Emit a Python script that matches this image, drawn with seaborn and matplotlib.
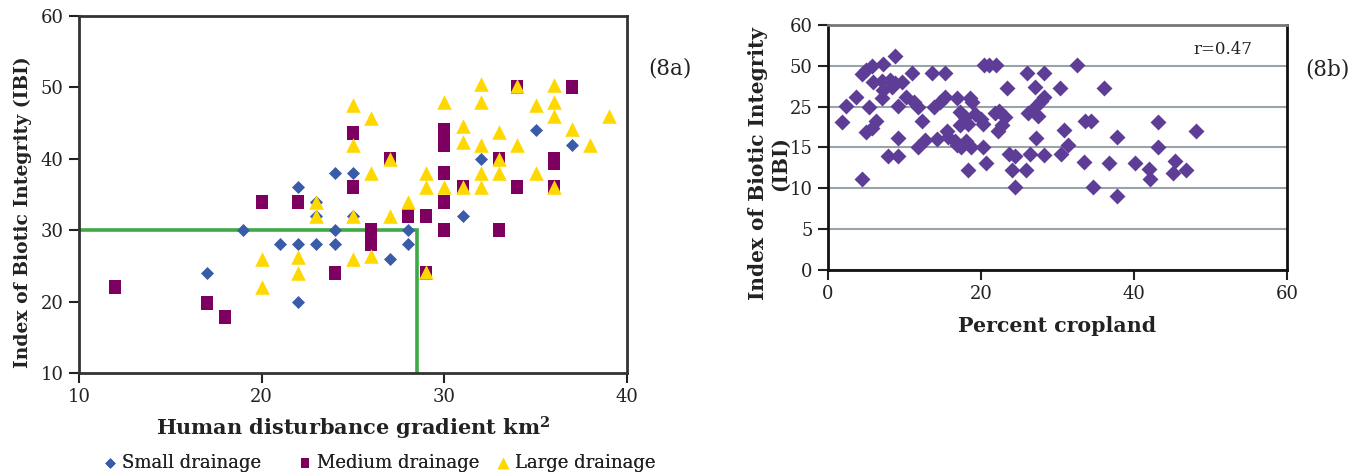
import numpy as np
import pandas as pd
import matplotlib
matplotlib.use("Agg")
import matplotlib.pyplot as plt
from matplotlib.path import Path
import seaborn as sns

# ---------------- data: panel 8a ----------------
small_x = [17, 19, 21, 22, 22, 22, 23, 23, 23, 24, 24, 24, 25, 25, 27, 28, 28, 31, 32, 35, 37]
small_y = [24, 30, 28, 36, 28, 20, 34, 32, 28, 38, 30, 28, 38, 32, 26, 30, 28, 32, 40, 44, 42]

medium_x = [12, 17, 18, 20, 22, 24, 25, 25, 26, 26, 26, 27, 28, 29, 29,
            30, 30, 30, 30, 30, 30, 31, 33, 33, 34, 34, 36, 36, 36, 37]
medium_y = [22, 19.8, 17.8, 34, 34, 24, 43.6, 36, 30, 29, 28, 40, 32, 32, 24,
            44, 43, 42, 38, 34, 30, 36, 40, 30, 50, 36, 40, 39.4, 36, 50]

large_x = [20, 20, 22, 22, 23, 23, 25, 25, 25, 25, 26, 26, 26, 27, 27, 28, 29, 29, 29,
           30, 30, 31, 31, 31, 32, 32, 32, 32, 32, 33, 33, 33, 34, 34, 35, 35,
           36, 36, 36, 36, 37, 38, 39]
large_y = [26, 22, 26.3, 24, 34, 32, 47.5, 42, 32, 26, 45.7, 38, 26.4, 40, 32, 34, 38, 36, 24.2,
           48, 36, 44.6, 42.4, 36, 50.5, 48, 42, 38, 36, 43.7, 40, 38, 50.2, 42, 47.5, 38,
           50.4, 48, 46, 36, 44.2, 42, 46]

group_names = ["Small drainage", "Medium drainage", "Large drainage"]
threshold_ibi = 30
threshold_hdg = 28.5

# ---------------- data: panel 8b ----------------
cropland = [8.7, 5.7, 7.2, 4.9, 4.4, 11.0, 13.6, 15.3, 20.4, 21.1, 21.9, 26.0, 28.3, 32.5,
            5.9, 7.0, 8.1, 8.7, 9.7, 7.2, 8.3, 23.4, 27.0, 30.3, 36.1,
            3.6, 7.0, 2.3, 5.4, 9.2, 10.2, 11.3, 11.8, 13.9, 14.7, 15.3, 16.8, 18.5, 18.8, 26.1, 27.2, 27.9, 28.3,
            1.8, 6.3, 5.7, 5.0, 12.3, 17.2, 17.9, 18.3, 17.2, 19.2, 20.0, 20.3, 21.8, 22.4, 23.1, 22.7, 22.2,
            27.4, 33.6, 34.4, 43.1, 30.9, 48.1, 15.5,
            9.2, 12.7, 14.2, 11.8, 15.7, 16.6, 16.8, 17.4, 18.1, 18.7, 20.3, 27.2, 31.4, 30.5, 37.8, 43.1,
            23.7, 24.4, 26.4, 28.3, 7.8, 9.2,
            4.4, 18.3, 20.7, 24.1, 25.9, 24.4, 33.5, 36.7, 40.1, 42.0, 42.1, 45.3, 45.1, 46.8, 34.6, 37.8]
ibi_b = [52.3, 50.0, 50.4, 47.4, 44.9, 45.5, 45.5, 45.5, 50.2, 50.2, 50.2, 45.5, 45.5, 50.2,
         39.8, 40.8, 41.3, 39.2, 39.8, 35.2, 36.8, 36.2, 36.8, 36.2, 36.2,
         31.1, 30.3, 25.6, 24.8, 25.6, 30.7, 27.6, 25.0, 24.8, 27.6, 30.7, 30.3, 30.3, 27.6, 23.4, 25.6, 28.7, 30.7,
         21.2, 21.6, 19.8, 18.7, 21.6, 23.6, 22.4, 20.8, 20.4, 23.2, 22.0, 20.8, 23.4, 24.0, 22.4, 20.4, 19.0,
         22.8, 21.6, 21.6, 21.2, 19.3, 19.1, 19.1,
         17.4, 16.9, 17.1, 15.1, 17.5, 16.7, 15.5, 15.1, 16.7, 15.1, 15.1, 17.4, 15.5, 14.2, 17.5, 15.1,
         14.2, 14.0, 14.2, 14.1, 13.9, 14.0,
         11.1, 12.2, 13.1, 12.2, 12.2, 10.2, 13.2, 13.1, 13.1, 12.4, 11.2, 13.4, 11.9, 12.2, 10.2, 9.0]
ibi_b_ticks = [0, 5, 10, 15, 25, 50, 60]
crop_ticks = [0, 20, 40, 60]
r_text = "r=0.47"

# ---------------- style ----------------
sns.set_theme(style="white")
plt.rcParams["font.family"] = ["DejaVu Serif", "Liberation Serif"]
plt.rcParams["mathtext.fontset"] = "dejavuserif"

fig = plt.figure(figsize=(13.61, 4.76), dpi=100)
axA = fig.add_axes([0.058, 0.2164, 0.4027, 0.7500])
axB = fig.add_axes([0.6084, 0.4328, 0.3372, 0.5147])

c_small = "#3A5BA8"
c_med = "#7D0061"
c_large = "#FFD800"
c_purple = "#5E3D96"
txt = "#222222"

rect_marker = Path([(-0.42, -0.5), (0.42, -0.5), (0.42, 0.5), (-0.42, 0.5), (-0.42, -0.5)],
                   [Path.MOVETO, Path.LINETO, Path.LINETO, Path.LINETO, Path.CLOSEPOLY])

df_s = pd.DataFrame({"x": small_x, "y": small_y})
df_m = pd.DataFrame({"x": medium_x, "y": medium_y})
df_l = pd.DataFrame({"x": large_x, "y": large_y})

# threshold line
axA.plot([10, threshold_hdg, threshold_hdg], [threshold_ibi, threshold_ibi, 10],
         color="#3DAA45", lw=2.6, zorder=1, solid_joinstyle="miter")

sns.scatterplot(data=df_s, x="x", y="y", ax=axA, marker="D", s=44, color=c_small,
                linewidth=0, label=group_names[0], zorder=3)
sns.scatterplot(data=df_m, x="x", y="y", ax=axA, marker=rect_marker, s=90, color=c_med,
                linewidth=0, label=group_names[1], zorder=4)
sns.scatterplot(data=df_l, x="x", y="y", ax=axA, marker="^", s=110, color=c_large,
                linewidth=0, label=group_names[2], zorder=5)

axA.set_xlim(10, 40)
axA.set_ylim(10, 60)
axA.set_xticks([10, 20, 30, 40])
axA.set_yticks([10, 20, 30, 40, 50, 60])
axA.set_xlabel("Human disturbance gradient km$^{\\mathbf{2}}$", fontsize=15, fontweight="bold",
               labelpad=6, color=txt)
axA.set_ylabel("Index of Biotic Integrity (IBI)", fontsize=13.5, fontweight="bold", color=txt)
axA.yaxis.set_label_coords(-0.086, 0.45)
axA.tick_params(axis="both", direction="out", length=7, width=1.5, labelsize=13, colors=txt,
                bottom=True, left=True, pad=4)
for sp in axA.spines.values():
    sp.set_color("#333333")
    sp.set_linewidth(2)

handles, labels = axA.get_legend_handles_labels()
axA.get_legend().remove()
legend_left = [101, 296, 494]
for h, lab, lx in zip(handles, labels, legend_left):
    leg = fig.legend([h], [lab], loc="center left", bbox_to_anchor=(lx / 1361, 0.027),
                     frameon=False, fontsize=13, handletextpad=0.15, markerscale=0.8,
                     handlelength=1.0, borderpad=0, borderaxespad=0, labelcolor=txt)
    fig.add_artist(leg)

fig.text(0.4923, 0.857, "(8a)", fontsize=15.5, ha="center", va="center", color=txt)

# ---------------- panel 8b ----------------
df_b = pd.DataFrame({"crop": cropland, "ibi": ibi_b})
pos = np.arange(len(ibi_b_ticks), dtype=float)


def fwd(v):
    return np.interp(v, ibi_b_ticks, pos)


def inv(p):
    return np.interp(p, pos, ibi_b_ticks)


sns.scatterplot(data=df_b, x="crop", y="ibi", ax=axB, marker="D", s=66, color=c_purple,
                linewidth=0, zorder=3)
axB.set_yscale("function", functions=(fwd, inv))
axB.set_ylim(0, 60)
axB.set_xlim(0, 60)
axB.set_yticks(ibi_b_ticks)
axB.set_yticklabels([str(t) for t in ibi_b_ticks])
axB.set_xticks(crop_ticks)
axB.yaxis.grid(True, color="#9AA3AA", lw=1.5)
axB.set_axisbelow(True)
axB.set_xlabel("Percent cropland", fontsize=14.8, fontweight="bold", labelpad=9, color=txt)
axB.set_ylabel("Index of Biotic Integrity\n(IBI)", fontsize=14.5, fontweight="bold",
               linespacing=1.1, color=txt)
axB.yaxis.set_label_coords(-0.083, 0.433)
axB.tick_params(axis="both", direction="out", length=7, width=1.5, labelsize=13, colors=txt,
                bottom=True, left=True, pad=4)
for name, sp in axB.spines.items():
    sp.set_linewidth(2)
    sp.set_color("#111111")
axB.spines["top"].set_color("#777777")
axB.text(0.861, 0.898, r_text, transform=axB.transAxes, fontsize=12, ha="center", va="center",
         color=txt)
fig.text(0.975, 0.855, "(8b)", fontsize=15.5, ha="center", va="center", color=txt)

fig.savefig("out.png", dpi=100)
